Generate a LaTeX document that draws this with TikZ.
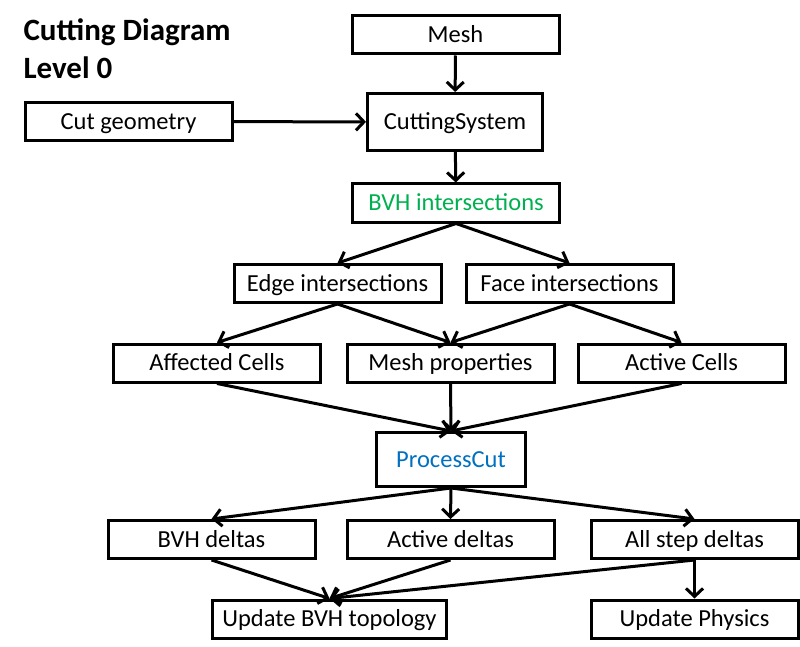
\documentclass[tikz,border=0pt]{standalone}
\usepackage{fontspec}
\setmainfont{Carlito}
\usepackage{xcolor}
\definecolor{colorSearch}{RGB}{0,176,80}
\definecolor{colorProcess}{RGB}{0,112,192}
\usetikzlibrary{arrows.meta, positioning}
\tikzset{box/.style={draw, line width=3pt, minimum width=207pt, minimum height=38pt, inner sep=0pt, text height=15.5pt, text depth=0pt, font=\fontsize{24.5}{28}\selectfont}}

\begin{document}
\begin{tikzpicture}[x=1pt, y=-1pt, >={Straight Barb[length=8pt, width=17pt]}, line width=3pt, node distance=22pt]
\useasboundingbox (0,0) rectangle (800,647);
\node[anchor=north west, align=left, inner sep=0pt, font=\fontsize{31}{38}\selectfont\bfseries] (qtitle) at (22,17) {Cutting Diagram\\Level 0};
\node[box] (qmesh) at (455.5,35) {Mesh};
\node[box] (qcut) at (128.5,121.5) {Cut geometry};
\node[box, minimum width=175pt, minimum height=57pt] (qsys) at (455,122) {CuttingSystem};
\node[box, text=colorSearch] (qbvh) at (456,203) {BVH intersections};
\node[box] (qedge) at (337.5,283.5) {Edge intersections};
\node[box, right=of qedge] (qface) {Face intersections};
\node[box] (qaff) at (217,363) {Affected Cells};
\node[box] (qprop) at (450.5,363) {Mesh properties};
\node[box] (qactc) at (681.5,363) {Active Cells};
\node[box, text=colorProcess, minimum width=149pt, minimum height=54pt] (qproc) at (451,459.5) {ProcessCut};
\node[box] (qbvhd) at (211.5,539.5) {BVH deltas};
\node[box] (qactd) at (450.5,539.5) {Active deltas};
\node[box] (qall) at (694.5,539.5) {All step deltas};
\node[box, minimum width=234pt] (qtopo) at (329.5,619) {Update BVH topology};
\node[box] (qphys) at (694.5,619) {Update Physics};
\draw (qmesh) edge[->] (qsys);
\draw (qcut) edge[->] (qsys);
\draw (qsys) edge[->] (qbvh);
\draw (qbvh.south) edge[->] (qedge.north) edge[->] (qface.north);
\draw (qedge.south) edge[->] (qaff.north) edge[->] (qprop.north);
\draw (qface.south) edge[->] (qprop.north) edge[->] (qactc.north);
\draw (qaff.south) edge[->] (qproc.north);
\draw (qprop.south) edge[->] (qproc.north);
\draw (qactc.south) edge[->] (qproc.north);
\draw (qproc.south) edge[->] (qbvhd.north) edge[->] (qactd.north) edge[->] (qall.north);
\draw (qbvhd.south) edge[->] (qtopo.north);
\draw (qactd.south) edge[->] (qtopo.north);
\draw (qall.south) edge[->] (qtopo.north) edge[->] (qphys.north);
\end{tikzpicture}
\end{document}
